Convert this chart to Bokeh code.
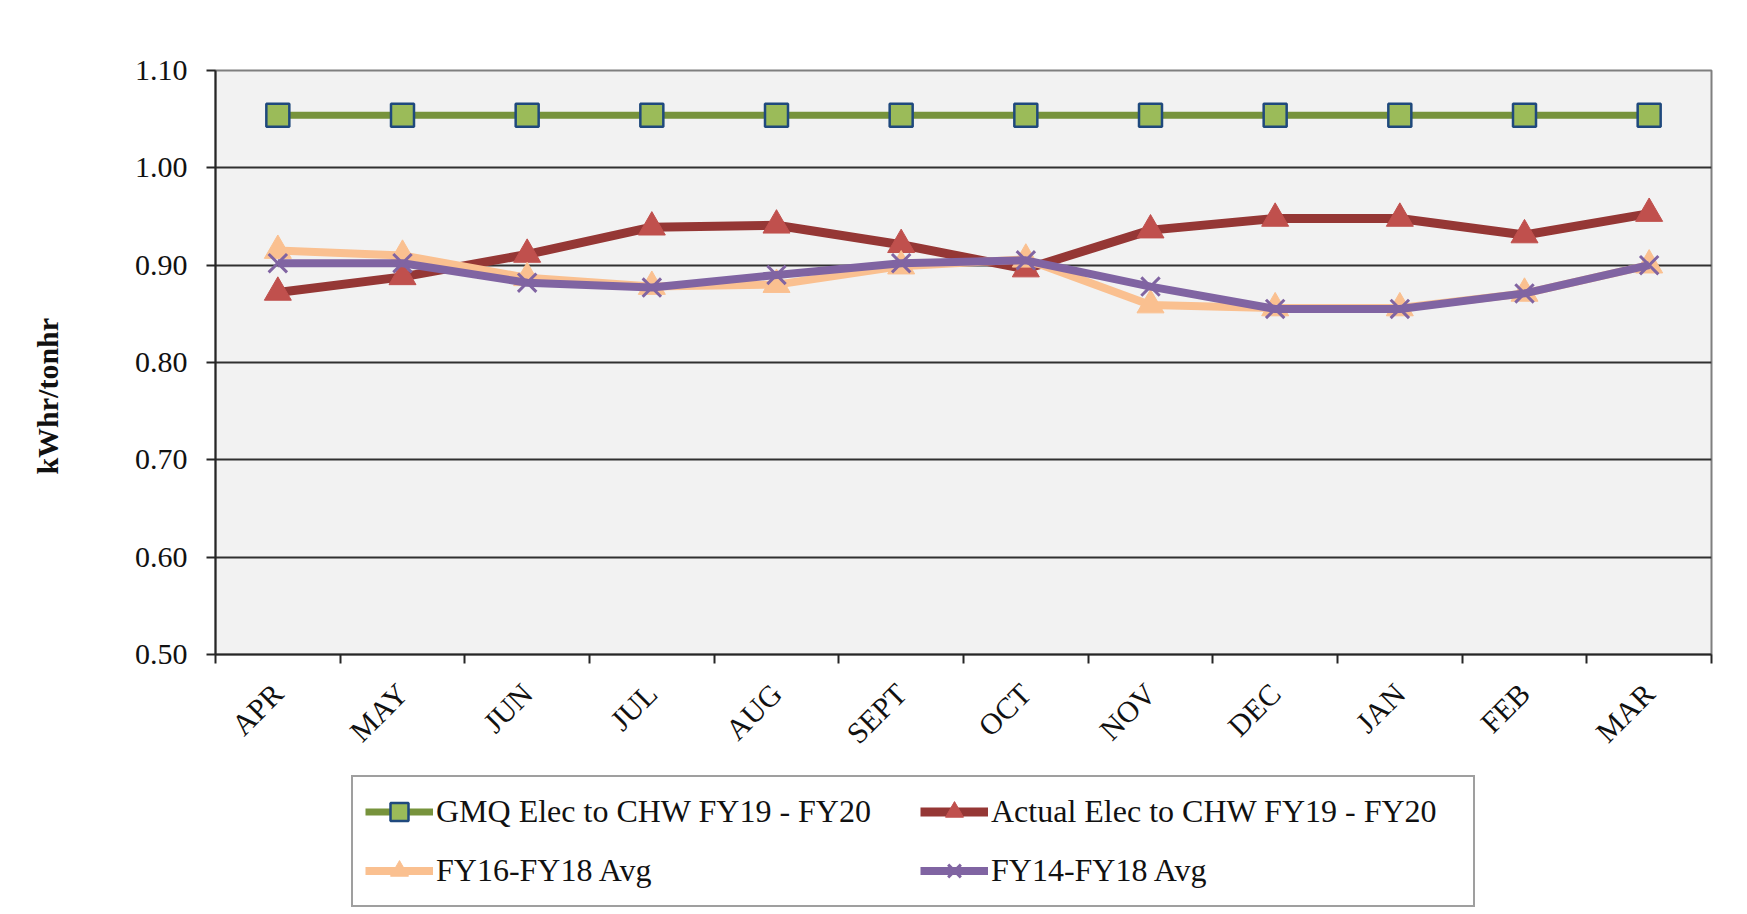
import math
from bokeh.plotting import figure
from bokeh.layouts import column
from bokeh.models import (Range1d, FixedTicker, CustomJSTickFormatter, NumeralTickFormatter,
                          Legend, LegendItem)
from bokeh.embed import file_html
from bokeh.resources import INLINE

months = ["APR", "MAY", "JUN", "JUL", "AUG", "SEPT", "OCT", "NOV", "DEC", "JAN", "FEB", "MAR"]
gmq = [1.054, 1.054, 1.054, 1.054, 1.054, 1.054, 1.054, 1.054, 1.054, 1.054, 1.054, 1.054]
actual = [0.872, 0.888, 0.911, 0.939, 0.941, 0.921, 0.896, 0.936, 0.948, 0.948, 0.931, 0.953]
fy16_18 = [0.915, 0.910, 0.887, 0.878, 0.880, 0.899, 0.906, 0.859, 0.856, 0.856, 0.871, 0.900]
fy14_18 = [0.902, 0.902, 0.882, 0.877, 0.890, 0.902, 0.905, 0.878, 0.855, 0.855, 0.871, 0.900]
y_ticks = [0.50, 0.60, 0.70, 0.80, 0.90, 1.00, 1.10]
series_names = ["GMQ Elec to CHW FY19 - FY20", "Actual Elec to CHW FY19 - FY20",
                "FY16-FY18 Avg", "FY14-FY18 Avg"]
y_title = "kWhr/tonhr"

FONT = "Liberation Serif"
TXT = "#111111"
x = [i + 0.5 for i in range(len(months))]

styles = [
    dict(line_color="#77933c", line_width=7, marker="square", size=23,
         fill_color="#9bbb59", mline="#1f497d", mwidth=2.5),
    dict(line_color="#953735", line_width=9, marker="triangle", size=27,
         fill_color="#c0504d", mline="#c0504d", mwidth=1),
    dict(line_color="#fac090", line_width=8, marker="triangle", size=27,
         fill_color="#fac090", mline="#fac090", mwidth=1),
    dict(line_color="#8064a2", line_width=8, marker="x", size=26,
         fill_color="#8064a2", mline="#8064a2", mwidth=3),
]
series = [gmq, actual, fy16_18, fy14_18]

p = figure(frame_width=1496, frame_height=584,
           min_border_left=215, min_border_top=70, min_border_right=20, min_border_bottom=115,
           x_range=Range1d(0, len(months)), y_range=Range1d(0.5, 1.10),
           output_backend="svg", toolbar_location=None)
p.background_fill_color = "#f2f2f2"
p.border_fill_color = "white"
p.outline_line_color = "#7f7f7f"
p.outline_line_width = 2

# axes
p.xaxis.ticker = FixedTicker(ticks=x, minor_ticks=list(range(len(months) + 1)))
p.xaxis.formatter = CustomJSTickFormatter(args=dict(months=months),
                                          code="return months[Math.floor(tick)] || ''")
p.xaxis.major_tick_out = 0
p.xaxis.major_tick_in = 0
p.xaxis.minor_tick_out = 9
p.xaxis.minor_tick_in = 0
p.xaxis.minor_tick_line_color = "#262626"
p.xaxis.minor_tick_line_width = 2
p.xaxis.major_label_orientation = math.pi / 4
p.xaxis.major_label_standoff = 25
p.xaxis.axis_line_color = "#262626"
p.xaxis.axis_line_width = 2

p.yaxis.ticker = FixedTicker(ticks=y_ticks)
p.yaxis.formatter = NumeralTickFormatter(format="0.00")
p.yaxis.major_tick_out = 9
p.yaxis.major_tick_in = 0
p.yaxis.minor_tick_line_color = None
p.yaxis.major_tick_line_color = "#262626"
p.yaxis.major_tick_line_width = 2
p.yaxis.axis_line_color = "#262626"
p.yaxis.axis_line_width = 2
p.yaxis.major_label_standoff = 19
# trailing no-break spaces shift the centred label down, as in the original
p.yaxis.axis_label = y_title + "\u00a0" * 9
p.yaxis.axis_label_text_font = FONT
p.yaxis.axis_label_text_font_style = "bold"
p.yaxis.axis_label_text_font_size = "30px"
p.yaxis.axis_label_text_color = TXT
p.yaxis.axis_label_standoff = 68

for ax in (p.xaxis, p.yaxis):
    ax.major_label_text_font = FONT
    ax.major_label_text_font_size = "30px"
    ax.major_label_text_color = TXT

p.xgrid.grid_line_color = None
p.ygrid.ticker = FixedTicker(ticks=y_ticks)
p.ygrid.grid_line_color = "#303030"
p.ygrid.grid_line_width = 2

for s, ys in zip(styles, series):
    p.line(x, ys, line_color=s["line_color"], line_width=s["line_width"])
    p.scatter(x, ys, marker=s["marker"], size=s["size"], fill_color=s["fill_color"],
              line_color=s["mline"], line_width=s["mwidth"])

# legend panel (own figure below the chart; its ranges keep the glyphs out of view)
lf = figure(width=1731, height=145, x_range=Range1d(100, 101), y_range=Range1d(0, 1),
            output_backend="svg", toolbar_location=None, min_border=0,
            x_axis_location=None, y_axis_location=None)
lf.outline_line_color = None
lf.background_fill_color = "white"
lf.grid.visible = False
items = []
for s, name, ys in zip(styles, series_names, series):
    lr = lf.line(x, ys, line_color=s["line_color"], line_width=s["line_width"])
    mr = lf.scatter(x, ys, marker=s["marker"], size=s["size"], fill_color=s["fill_color"],
                    line_color=s["mline"], line_width=s["mwidth"])
    items.append(LegendItem(label=name, renderers=[lr, mr]))

# column-major filling: first column = items 0, 2 ; second column = items 1, 3
legend = Legend(items=[items[0], items[2], items[1], items[3]], ncols=2, location=(136, 7))
legend.label_text_font = FONT
legend.label_text_font_size = "32px"
legend.label_text_color = TXT
legend.glyph_width = 68
legend.glyph_height = 45
legend.label_height = 45
legend.label_width = 470
legend.label_standoff = 3
legend.spacing = 14
legend.padding = 12
legend.margin = 0
legend.border_line_color = "#404040"
legend.border_line_width = 2
legend.background_fill_color = "white"
legend.background_fill_alpha = 1
lf.add_layout(legend, "center")

layout = column(p, lf, spacing=0)
open("out.html", "w").write(file_html(layout, INLINE))
